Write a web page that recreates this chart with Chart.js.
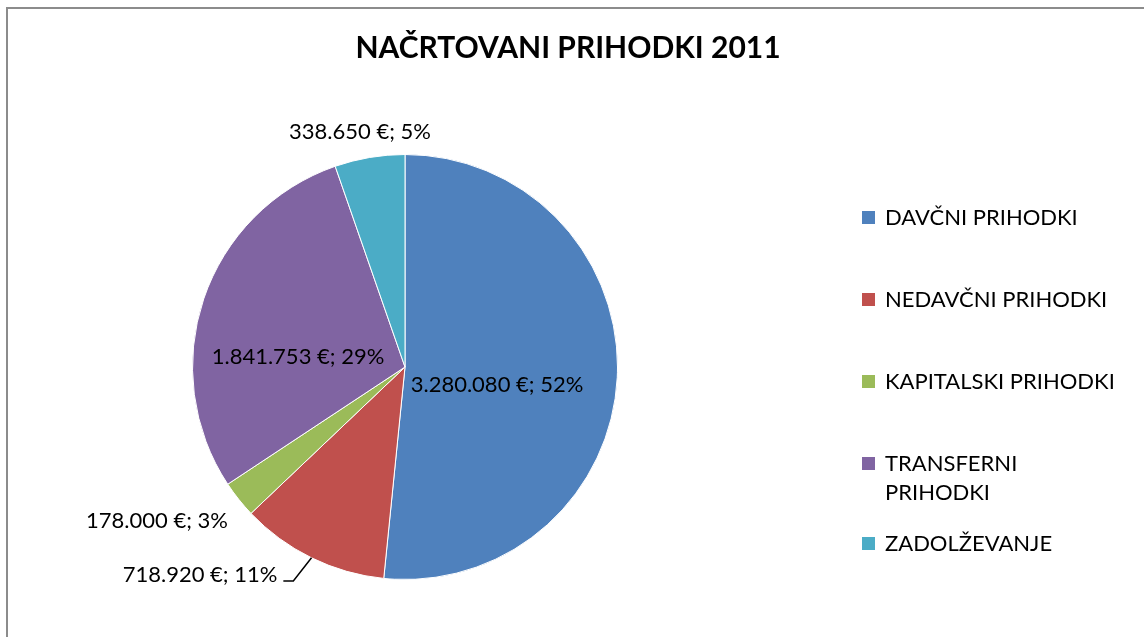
<!DOCTYPE html>
<html>
<head>
<meta charset="utf-8">
<script src="https://cdn.jsdelivr.net/npm/chart.js@4"></script>
<style>
html,body{margin:0;padding:0;background:#fff;overflow:hidden;}
#wrap{position:relative;width:1144px;height:637px;}
#frame{position:absolute;left:6px;top:7px;width:1200px;height:700px;border-left:2px solid #8c8c8c;border-top:2px solid #8c8c8c;pointer-events:none;}
canvas{position:absolute;left:0;top:0;}
</style>
</head>
<body>
<div id="wrap"><canvas id="c" width="1144" height="637"></canvas><div id="frame"></div></div>
<script>
const title = "NAČRTOVANI PRIHODKI 2011";
const categories = ["DAVČNI PRIHODKI", "NEDAVČNI PRIHODKI", "KAPITALSKI PRIHODKI", "TRANSFERNI PRIHODKI", "ZADOLŽEVANJE"];
const legendLines = [["DAVČNI PRIHODKI"], ["NEDAVČNI PRIHODKI"], ["KAPITALSKI PRIHODKI"], ["TRANSFERNI", "PRIHODKI"], ["ZADOLŽEVANJE"]];
const values = [3280080, 718920, 178000, 1841753, 338650];
const colors = ["#4F81BD", "#C0504D", "#9BBB59", "#8064A2", "#4BACC6"];

const FONT = "Lato, 'Liberation Sans', sans-serif";

function fmt(v){
  return String(v).replace(/\B(?=(\d{3})+(?!\d))/g, ".") + " €";
}

// label placement config (relative to pie centre, in px)
const labelPos = [
  {dx: 92, dy: 18},
  {dx: -205, dy: 208, leader: true},
  {dx: -248, dy: 154},
  {dx: -107, dy: -10},
  {dx: -45, dy: -235}
];

const drawPlugin = {
  id: 'custom',
  afterDraw(chart){
    const ctx = chart.ctx;
    ctx.save();
    // title
    ctx.fillStyle = '#000';
    ctx.font = "bold 30px " + FONT;
    ctx.textAlign = 'center';
    ctx.textBaseline = 'middle';
    ctx.fillText(title, 568, 48);

    const meta = chart.getDatasetMeta(0);
    const total = values.reduce((a,b)=>a+b,0);
    const arc0 = meta.data[0];
    const cx = arc0.x, cy = arc0.y, R = arc0.outerRadius;
    ctx.font = "22px " + FONT;
    values.forEach((v,i)=>{
      const pct = Math.round(v/total*100);
      const txt = fmt(v) + "; " + pct + "%";
      const p = labelPos[i];
      const x = cx + p.dx, y = cy + p.dy;
      ctx.textAlign = 'center';
      ctx.fillStyle = '#000';
      ctx.fillText(txt, x, y);
      if (p.leader){
        const a = meta.data[i];
        const mid = (a.startAngle + a.endAngle)/2;
        const ex = cx + Math.cos(mid)*R, ey = cy + Math.sin(mid)*R;
        const w = ctx.measureText(txt).width;
        const sx = x + w/2 + 6, sy = y + 6;
        ctx.strokeStyle = '#000';
        ctx.lineWidth = 1.5;
        ctx.beginPath();
        ctx.moveTo(sx, sy);
        ctx.lineTo(sx + 10, sy);
        ctx.lineTo(ex, ey);
        ctx.stroke();
      }
    });

    // legend
    const ys = [217, 299, 381, 463, 543];
    ctx.font = "22px " + FONT;
    ctx.textAlign = 'left';
    legendLines.forEach((lines,i)=>{
      ctx.fillStyle = colors[i];
      ctx.fillRect(862, ys[i]-6, 13, 13);
      ctx.fillStyle = '#000';
      lines.forEach((t,j)=>{
        ctx.fillText(t, 885, ys[i] + j*29 + 1);
      });
    });
    ctx.restore();
  }
};

new Chart(document.getElementById('c'), {
  type: 'pie',
  data: {
    labels: categories,
    datasets: [{
      data: values,
      backgroundColor: colors,
      borderColor: '#ffffff',
      borderWidth: 1
    }]
  },
  options: {
    responsive: false,
    animation: false,
    layout: {padding: {left: 192, right: 526, top: 154, bottom: 57}},
    plugins: {legend: {display: false}, tooltip: {enabled: false}, title: {display: false}}
  },
  plugins: [drawPlugin]
});
</script>
</body>
</html>
